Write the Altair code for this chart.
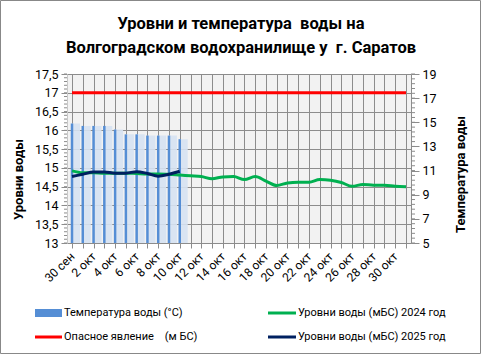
import altair as alt
import pandas as pd

# ---- data ----
days = ['30 сен', '1 окт', '2 окт', '3 окт', '4 окт', '5 окт', '6 окт', '7 окт',
        '8 окт', '9 окт', '10 окт', '11 окт', '12 окт', '13 окт', '14 окт', '15 окт',
        '16 окт', '17 окт', '18 окт', '19 окт', '20 окт', '21 окт', '22 окт', '23 окт',
        '24 окт', '25 окт', '26 окт', '27 окт', '28 окт', '29 окт', '30 окт', '31 окт']
temp_2025 = [14.9, 14.7, 14.7, 14.7, 14.4, 14.0, 14.0, 13.9, 13.9, 13.9, 13.6]
level_2025 = [14.77, 14.83, 14.89, 14.89, 14.86, 14.86, 14.90, 14.85, 14.78, 14.83, 14.91]
level_2024 = [14.92, 14.87, 14.87, 14.86, 14.86, 14.86, 14.85, 14.84, 14.84, 14.83,
              14.81, 14.79, 14.77, 14.71, 14.76, 14.77, 14.69, 14.77, 14.65, 14.53,
              14.60, 14.62, 14.62, 14.69, 14.67, 14.61, 14.51, 14.56, 14.54, 14.54,
              14.51, 14.50]
danger_level = 17.0

left_ticks = [13, 13.5, 14, 14.5, 15, 15.5, 16, 16.5, 17, 17.5]
left_minor = [round(13 + 0.1 * k, 1) for k in range(46)]
right_ticks = [5, 7, 9, 11, 13, 15, 17, 19]
right_minor = [round(5 + 0.4 * k, 1) for k in range(36)]

NB = '\u00a0'
title_lines = ['Уровни и температура' + NB + NB + 'воды на',
               'Волгоградском водохранилище у' + NB + NB + 'г. Саратов']
legend_labels = ['Температура воды (°C)', 'Уровни воды (мБС) 2024 год',
                 'Опасное явление' + NB * 3 + ' (м БС)', 'Уровни воды (мБС) 2025 год']
legend_colors = ['#558ed5', '#00b050', '#ff0000', '#002060']

FONT = 'Roboto'
W, H = 344, 169
GRID = '#8c8c8c'

idx = list(range(len(days)))
df24 = pd.DataFrame({'i': idx, 'v': level_2024})
df25 = pd.DataFrame({'i': idx[:len(level_2025)], 'v': level_2025})
dft = pd.DataFrame({'i': idx[:len(temp_2025)], 't': temp_2025})
dfd = pd.DataFrame({'i': [idx[0], idx[-1]], 'v': [danger_level, danger_level]})
dfl_minor = pd.DataFrame({'v': left_minor})
dfr_minor = pd.DataFrame({'t': right_minor})

label_arr = '[' + ','.join("'" + d + "'" for d in days) + ']'
x_enc = alt.X('i:Q',
              scale=alt.Scale(domain=[0, len(days) - 1], nice=False, zero=False),
              axis=alt.Axis(values=idx, title=None, labelOverlap=False,
                            labelExpr=f"datum.value % 2 == 0 ? {label_arr}[datum.value] : ''",
                            labelAngle=-45, labelAlign='right', labelBaseline='middle',
                            labelPadding=6, labelFontSize=12, labelFont=FONT, labelColor='#000',
                            grid=True, gridColor=GRID, gridWidth=1,
                            tickColor=GRID, tickSize=5, domainColor=GRID))

y_left_scale = alt.Scale(domain=[13, 17.5], nice=False, zero=False)
y_right_scale = alt.Scale(domain=[5, 19], nice=False, zero=False)

y_left = alt.Y('v:Q', scale=y_left_scale,
               axis=alt.Axis(orient='left', values=left_ticks, labelOverlap=False,
                             labelExpr="replace(format(datum.value, '~g'), '.', ',')",
                             labelFontSize=12.5, labelFont=FONT, labelColor='#000', labelPadding=3,
                             grid=True, gridColor=GRID, tickColor=GRID, tickSize=6,
                             domainColor='#c8c8c8',
                             title='Уровни воды', titleFont=FONT, titleFontSize=13,
                             titleFontWeight='bold', titleColor='#000',
                             titleAngle=270, titleX=-49, titleY=105,
                             titleAlign='center', titleBaseline='middle'))
y_right = alt.Y('t:Q', scale=y_right_scale,
                axis=alt.Axis(orient='right', values=right_ticks, labelOverlap=False,
                              labelFontSize=12.5, labelFont=FONT, labelColor='#000', labelPadding=3,
                              grid=False, tickColor=GRID, tickSize=8, domainColor=GRID,
                              title='Температура воды', titleFont=FONT, titleFontSize=13,
                              titleFontWeight='bold', titleColor='#000',
                              titleAngle=270, titleX=49, titleY=100,
                              titleAlign='center', titleBaseline='middle'))

# ---- right-axis layer (bars) ----
glow = alt.Chart(dft).mark_bar(size=8, xOffset=4, color='#d6e2f2', opacity=0.9).encode(
    x=x_enc, y=y_right, y2=alt.datum(5))
bars = alt.Chart(dft).mark_bar(size=2.5, color='#558ed5').encode(
    x=x_enc, y=y_right, y2=alt.datum(5))
rminor = alt.Chart(dfr_minor).mark_rule(color=GRID).encode(
    y=y_right, x=alt.value(W), x2=alt.value(W + 4))
right_layer = alt.layer(glow, bars, rminor)

# ---- left-axis layer (lines) ----
danger = alt.Chart(dfd).mark_line(color='#ff0000', strokeWidth=3).encode(x=x_enc, y=y_left)
l24 = alt.Chart(df24).mark_line(color='#00b050', strokeWidth=3, interpolate='monotone').encode(
    x=x_enc, y=y_left)
l25 = alt.Chart(df25).mark_line(color='#002060', strokeWidth=3, interpolate='monotone').encode(
    x=x_enc, y=y_left)
lminor = alt.Chart(dfl_minor).mark_rule(color=GRID).encode(
    y=y_left, x=alt.value(-3), x2=alt.value(0))
left_layer = alt.layer(lminor, danger, l24, l25)

# ---- title (two centred lines) ----
title_layers = []
for k, line in enumerate(title_lines):
    title_layers.append(
        alt.Chart(pd.DataFrame({'t': [line]})).mark_text(
            align='center', baseline='alphabetic', font=FONT, fontSize=16.5,
            fontWeight='bold', color='#000').encode(
            x=alt.value(W / 2 + 2), y=alt.value(-45 + 24 * k), text='t:N'))

# ---- legend (manual, 2x2) ----
one = pd.DataFrame({'a': [0]})
leg_layers = []
sym_x = [(-32, -5), (201, 229), (-32, -5), (201, 229)]
sym_y = [239, 239, 263, 263]
for k, (lab, col) in enumerate(zip(legend_labels, legend_colors)):
    x0, x1 = sym_x[k]
    if k == 0:
        sym = alt.Chart(one).mark_rect(color=col).encode(
            x=alt.value(x0), x2=alt.value(x1), y=alt.value(sym_y[k] - 4), y2=alt.value(sym_y[k] + 4))
    else:
        sym = alt.Chart(one).mark_rule(color=col, strokeWidth=3).encode(
            x=alt.value(x0), x2=alt.value(x1), y=alt.value(sym_y[k]))
    txt = alt.Chart(pd.DataFrame({'label': [lab]})).mark_text(
        align='left', baseline='middle', font=FONT, fontSize=11, color='#000').encode(
        x=alt.value(x1 + 2), y=alt.value(sym_y[k]), text='label:N')
    leg_layers += [sym, txt]

border = alt.Chart(one).mark_rect(fillOpacity=0, stroke='#888888', strokeWidth=1).encode(
    x=alt.value(-66.5), x2=alt.value(W + 69.5), y=alt.value(-73.5), y2=alt.value(H + 110.5))

chart = alt.layer(right_layer, left_layer, *title_layers, *leg_layers, border).resolve_scale(
    y='independent').properties(
    width=W, height=H,
    padding={'left': 67, 'top': 74, 'right': 70, 'bottom': 111},
    autosize=alt.AutoSizeParams(type='none'),
    background='white',
).configure_view(fill='#f2f2f2', strokeWidth=0)

chart.save('out.html', embed_options={'renderer': 'svg', 'actions': False})
